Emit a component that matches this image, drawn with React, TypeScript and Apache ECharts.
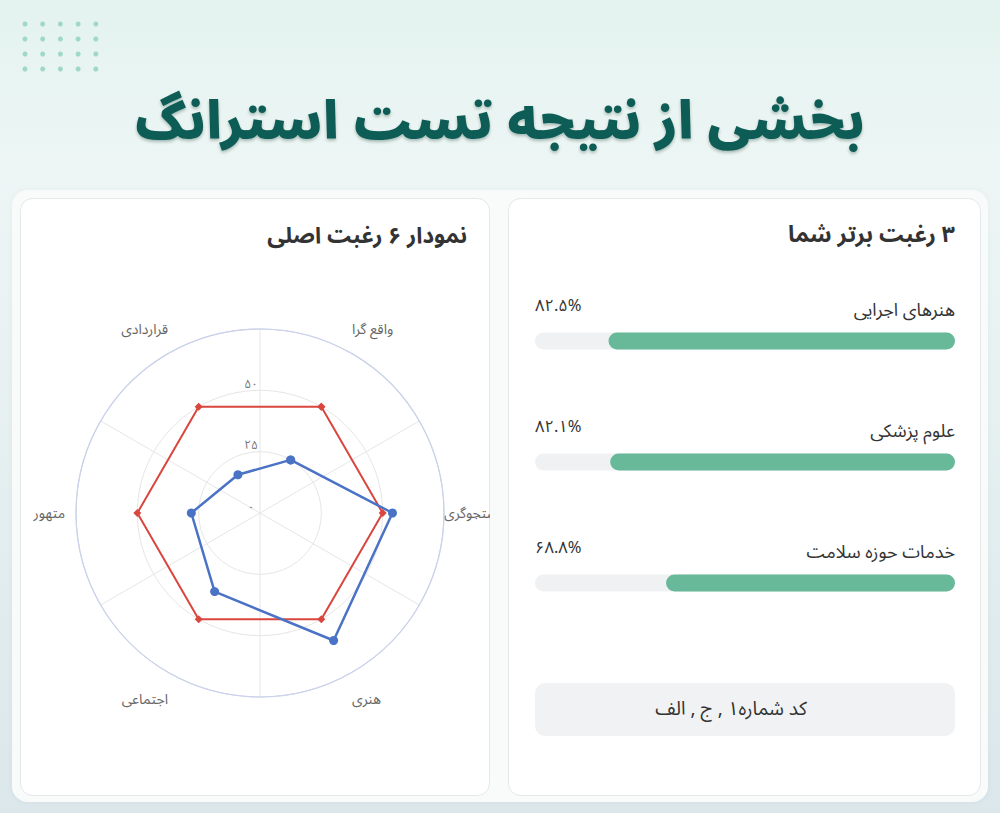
import React, { useEffect, useRef } from "react";
import * as echarts from "echarts";

const FONT = "'Noto Sans Arabic', 'DejaVu Sans', sans-serif";
const RLE = "\u202B";
const PDF = "\u202C";

const pageTitle = "بخشی از نتیجه تست استرانگ";
const radarTitle = "نمودار ۶ رغبت اصلی";
const topTitle = "۳ رغبت برتر شما";
const codeText = "کد شماره۱ , ج , الف";

const categories = ["واقع گرا", "جستجوگری", "هنری", "اجتماعی", "متهور", "قراردادی"];
const userScores = [25, 54, 60, 37, 28, 18];
const averageScores = [50, 50, 50, 50, 50, 50];
const radiusMax = 75;
const radiusStep = 25;

const topNames = ["هنرهای اجرایی", "علوم پزشکی", "خدمات حوزه سلامت"];
const topValues = [82.5, 82.1, 68.8];

const fa = (s: string) => s.replace(/\d/g, (d) => "۰۱۲۳۴۵۶۷۸۹"[Number(d)]);
const rtl = (s: string) => RLE + s + PDF;

function buildMainOption() {
  const dots: any[] = [];
  for (let r = 0; r < 4; r++) {
    for (let c = 0; c < 5; c++) {
      dots.push({
        type: "circle",
        shape: { cx: 25 + c * 17.7, cy: 24 + r * 15, r: 2.5 },
        style: { fill: "#9fd8c6" },
        silent: true,
      });
    }
  }
  return {
    animation: false,
    textStyle: { fontFamily: FONT },
    graphic: [
      {
        type: "rect",
        z: -10,
        shape: { x: 0, y: 0, width: 1000, height: 813 },
        style: {
          fill: new echarts.graphic.LinearGradient(0, 0, 0, 1, [
            { offset: 0, color: "#e4f3ef" },
            { offset: 0.22, color: "#edf6f5" },
            { offset: 1, color: "#dbe7eb" },
          ]),
        },
        silent: true,
      },
      ...dots,
      {
        type: "rect",
        z: -9,
        shape: { x: 12, y: 190, width: 976, height: 612, r: 16 },
        style: { fill: "#f9fbfb", shadowColor: "rgba(0,0,0,0.04)", shadowBlur: 6 },
        silent: true,
      },
      {
        type: "rect",
        z: -8,
        shape: { x: 20.5, y: 198.5, width: 469, height: 597, r: 12 },
        style: { fill: "#ffffff", stroke: "#e3e8eb", lineWidth: 1 },
        silent: true,
      },
      {
        type: "rect",
        z: -8,
        shape: { x: 508.5, y: 198.5, width: 472, height: 597, r: 12 },
        style: { fill: "#ffffff", stroke: "#e3e8eb", lineWidth: 1 },
        silent: true,
      },
      {
        type: "rect",
        z: -7,
        shape: { x: 535, y: 683, width: 420, height: 53, r: 10 },
        style: { fill: "#f1f2f4" },
        silent: true,
      },
      {
        type: "text",
        z: 5,
        x: 731,
        y: 709,
        style: {
          text: rtl(codeText),
          fill: "#333333",
          font: `19px ${FONT}`,
          align: "center",
          verticalAlign: "middle",
        },
        silent: true,
      },
    ],
    title: [
      {
        text: pageTitle,
        left: "center",
        top: 96,
        padding: 0,
        textStyle: {
          fontFamily: FONT,
          fontSize: 52,
          fontWeight: 900,
          color: "#0f5b54",
          textShadowColor: "rgba(0,40,30,0.3)",
          textShadowBlur: 3,
          textShadowOffsetY: 2,
        },
      },
      {
        text: rtl(topTitle),
        right: 45,
        top: 223,
        padding: 0,
        textStyle: { fontFamily: FONT, fontSize: 23, fontWeight: "bold", color: "#333333" },
      },
    ],
    grid: { left: 535, right: 45, top: 280.5, height: 363 },
    xAxis: { type: "value", min: 0, max: 100, show: false },
    yAxis: { type: "category", data: topNames, inverse: true, show: false },
    series: [
      {
        type: "bar",
        name: "track",
        data: topNames.map(() => 100),
        barWidth: 17,
        barGap: "-100%",
        itemStyle: { color: "#f0f1f3", borderRadius: 9 },
        label: {
          show: true,
          position: [0, -27],
          align: "left",
          verticalAlign: "middle",
          formatter: (p: any) => fa(topValues[p.dataIndex].toFixed(1)) + "%",
          color: "#333333",
          fontSize: 16.5,
          fontFamily: FONT,
        },
        silent: true,
      },
      {
        type: "bar",
        name: "spacer",
        stack: "fill",
        data: topValues.map((v) => 100 - v),
        barWidth: 17,
        itemStyle: { color: "rgba(0,0,0,0)" },
        silent: true,
      },
      {
        type: "bar",
        name: "value",
        stack: "fill",
        data: topValues,
        barWidth: 17,
        itemStyle: { color: "#67b99a", borderRadius: 9 },
        label: {
          show: true,
          position: ["100%", -23],
          align: "right",
          verticalAlign: "middle",
          formatter: (p: any) => topNames[p.dataIndex],
          color: "#333333",
          fontSize: 18,
          fontFamily: FONT,
        },
      },
    ],
  };
}

function buildRadarOption() {
  const close = (arr: number[]) => [...arr.map((v, i) => [v, i]), [arr[0], 0]];
  // extra padding pushes the diagonal labels further out (top ones up, bottom ones down)
  const labelPads: Record<number, number[]> = {
    0: [0, 0, 17, 0],
    2: [20, 0, 0, 0],
    3: [20, 0, 0, 0],
    5: [0, 0, 17, 0],
    4: [0, 11, 0, 0],
  };
  const catData = categories.map((c, i) =>
    labelPads[i] ? { value: c, textStyle: { padding: labelPads[i] } } : c
  );
  return {
    animation: false,
    textStyle: { fontFamily: FONT },
    title: {
      text: radarTitle,
      right: 23,
      top: 26,
      padding: 0,
      textStyle: { fontFamily: FONT, fontSize: 22.5, fontWeight: "bold", color: "#333333" },
    },
    polar: { center: [240, 315], radius: 184 },
    angleAxis: {
      type: "category",
      data: catData,
      startAngle: 90,
      boundaryGap: true,
      axisLine: { show: true, lineStyle: { color: "#cbd3ea", width: 1.2 } },
      axisTick: { show: false },
      axisLabel: { color: "#666666", fontSize: 14, margin: 0, fontFamily: FONT },
      splitLine: { show: true, lineStyle: { color: "#e6e6e6", width: 1 } },
    },
    radiusAxis: {
      type: "value",
      min: 0,
      max: radiusMax,
      interval: radiusStep,
      axisLine: { show: false },
      axisTick: { show: false },
      axisLabel: {
        show: true,
        showMaxLabel: false,
        formatter: (v: number) => fa(String(v)),
        color: "#777777",
        fontSize: 12,
        margin: 3,
        align: "center",
        verticalAlign: "bottom",
        padding: [0, 12, 0, 0],
        fontFamily: FONT,
      },
      splitLine: {
        show: true,
        lineStyle: { color: ["#e6e6e6", "#e6e6e6", "#e6e6e6", "#cbd3ea"], width: 1 },
      },
    },
    series: [
      {
        type: "line",
        name: "میانگین",
        coordinateSystem: "polar",
        data: close(averageScores),
        symbol: "diamond",
        symbolSize: 8,
        lineStyle: { color: "#d9463e", width: 2 },
        itemStyle: { color: "#d9463e" },
        z: 2,
      },
      {
        type: "line",
        name: "شما",
        coordinateSystem: "polar",
        data: close(userScores),
        symbol: "circle",
        symbolSize: 9,
        lineStyle: { color: "#4a73c6", width: 2.5 },
        itemStyle: { color: "#4a73c6" },
        z: 3,
      },
    ],
  };
}

export default function App() {
  const mainRef = useRef<HTMLDivElement>(null);
  const radarRef = useRef<HTMLDivElement>(null);
  useEffect(() => {
    const main = echarts.init(mainRef.current!, null, { renderer: "svg" });
    main.setOption(buildMainOption() as any);
    const radar = echarts.init(radarRef.current!, null, { renderer: "svg" });
    radar.setOption(buildRadarOption() as any);
    return () => {
      main.dispose();
      radar.dispose();
    };
  }, []);
  return (
    <div style={{ position: "absolute", left: 0, top: 0, width: 1000, height: 813, overflow: "hidden" }}>
      <div ref={mainRef} style={{ position: "absolute", left: 0, top: 0, width: 1000, height: 813 }} />
      <div
        ref={radarRef}
        style={{ position: "absolute", left: 20, top: 198, width: 470, height: 598, overflow: "hidden" }}
      />
    </div>
  );
}
